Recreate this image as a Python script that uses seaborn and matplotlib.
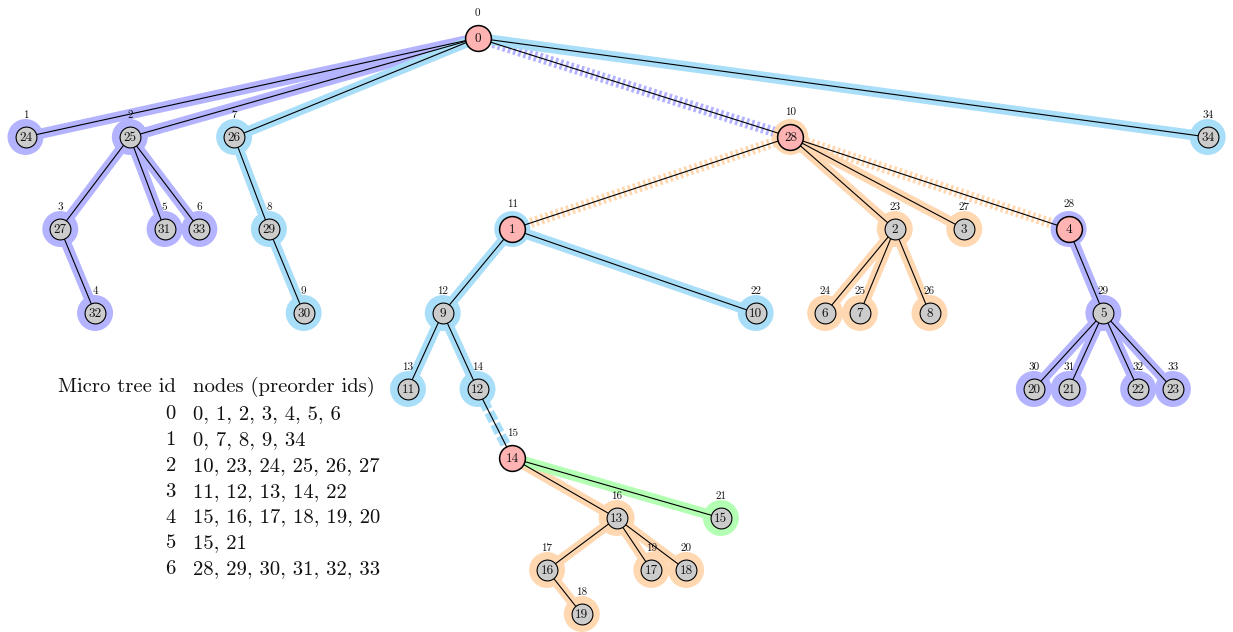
import matplotlib
matplotlib.use("Agg")
import matplotlib.pyplot as plt
import numpy as np
import pandas as pd
import seaborn as sns

# tree stored in preorder: label drawn inside node, parent (preorder id), column slot
node_labels = [0, 24, 25, 27, 32, 31, 33, 26, 29, 30, 28, 1, 9, 11, 12, 14, 13, 16,
               19, 17, 18, 15, 10, 2, 6, 7, 8, 3, 4, 5, 20, 21, 22, 23, 34]
parents = [-1, 0, 0, 2, 3, 2, 2, 0, 7, 8, 0, 10, 11, 12, 12, 14, 15, 16,
           17, 16, 16, 15, 11, 10, 23, 23, 23, 10, 10, 28, 29, 29, 29, 29, 0]
slots = [13, 0, 3, 1, 2, 4, 5, 6, 7, 8, 22, 14, 12, 11, 13, 14, 17, 15,
         16, 18, 19, 20, 21, 25, 23, 24, 26, 27, 30, 31, 29, 30, 32, 33, 34]
level_y = [38, 137, 229, 313, 389, 458, 518, 570, 614]

# micro trees (table in the lower left)
micro_ids = [0, 1, 2, 3, 4, 5, 6]
micro_nodes = [[0, 1, 2, 3, 4, 5, 6],
               [0, 7, 8, 9, 34],
               [10, 23, 24, 25, 26, 27],
               [11, 12, 13, 14, 22],
               [15, 16, 17, 18, 19, 20],
               [15, 21],
               [28, 29, 30, 31, 32, 33]]
long_dash_edges = [15]

PURPLE = "#b3b3ff"
BLUE = "#a9def9"
ORANGE = "#ffd8b2"
GREEN = "#b3ffb3"
micro_colors = [PURPLE, BLUE, ORANGE, BLUE, ORANGE, GREEN, PURPLE]

sns.set_theme(style="white")
plt.rcParams["lines.scale_dashes"] = False
FONT = "cmr10"

n = len(node_labels)
depth = [0] * n
for i in range(1, n):
    depth[i] = depth[parents[i]] + 1
trees = [[t for t in micro_ids if i in micro_nodes[t]] for i in range(n)]
roots = sorted(set(m[0] for m in micro_nodes))

df = pd.DataFrame({
    "pre": range(n),
    "label": node_labels,
    "x": slots,
    "y": [level_y[d] for d in depth],
})
df["root"] = df["pre"].isin(roots)
df["halo"] = [micro_colors[t[0]] if len(t) == 1 else None for t in trees]

W, H = 1233, 632
fig = plt.figure(figsize=(W / 100, H / 100), dpi=100)
ax = fig.add_axes([0, 0, 1, 1])
step, x0 = 34.77, 25.5
ax.set_xlim(-x0 / step, (W - x0) / step)
ax.set_ylim(H, 0)
ax.axis("off")

# edge halos and edges
for c in range(1, n):
    p = parents[c]
    xs = [slots[p], slots[c]]
    ys = [level_y[depth[p]], level_y[depth[c]]]
    common = sorted(set(trees[p]) & set(trees[c]))
    if common:
        ax.plot(xs, ys, color=micro_colors[common[0]], lw=7.5,
                solid_capstyle="butt", zorder=1)
    else:
        dash = (7.0, 2.4) if c in long_dash_edges else (2.0, 1.9)
        ax.plot(xs, ys, color=micro_colors[trees[p][0]], lw=7.5,
                dashes=dash, dash_capstyle="butt", zorder=1)
    ax.plot(xs, ys, color="black", lw=0.8, zorder=3)

# node halos
for col, grp in df.dropna(subset=["halo"]).groupby("halo"):
    sns.scatterplot(data=grp, x="x", y="y", s=670, color=col,
                    edgecolor="none", ax=ax, zorder=2, legend=False)

# nodes
sns.scatterplot(data=df[~df["root"]], x="x", y="y", s=225, color="#cccccc",
                edgecolor="black", linewidth=0.8, ax=ax, zorder=4, legend=False)
sns.scatterplot(data=df[df["root"]], x="x", y="y", s=345, color="#ffb3b3",
                edgecolor="black", linewidth=1.1, ax=ax, zorder=4, legend=False)

for _, r in df.iterrows():
    ax.annotate(str(r["label"]), (r["x"], r["y"]), xytext=(0, -3.2),
                textcoords="offset points", ha="center", va="baseline",
                fontsize=9.5, family=FONT, color="#111111", zorder=5)
    off = 16.0 if r["root"] else 13.7
    ax.annotate(str(r["pre"]), (r["x"], r["y"]), xytext=(0, off),
                textcoords="offset points", ha="center", va="baseline",
                fontsize=8, family=FONT, color="#111111", zorder=5)

# micro tree table
def ftext(x, y, s, ha):
    fig.text(x / W, 1 - y / H, s, ha=ha, va="baseline", fontsize=14.9,
             family=FONT, color="#111111")

ftext(176, 392, "Micro tree id", "right")
ftext(193, 392, "nodes (preorder ids)", "left")
for k, t in enumerate(micro_ids):
    yb = 419 + 25.9 * k
    ftext(176, yb, str(t), "right")
    ftext(193, yb, ", ".join(str(v) for v in micro_nodes[t]), "left")

fig.savefig("out.png", dpi=100)
